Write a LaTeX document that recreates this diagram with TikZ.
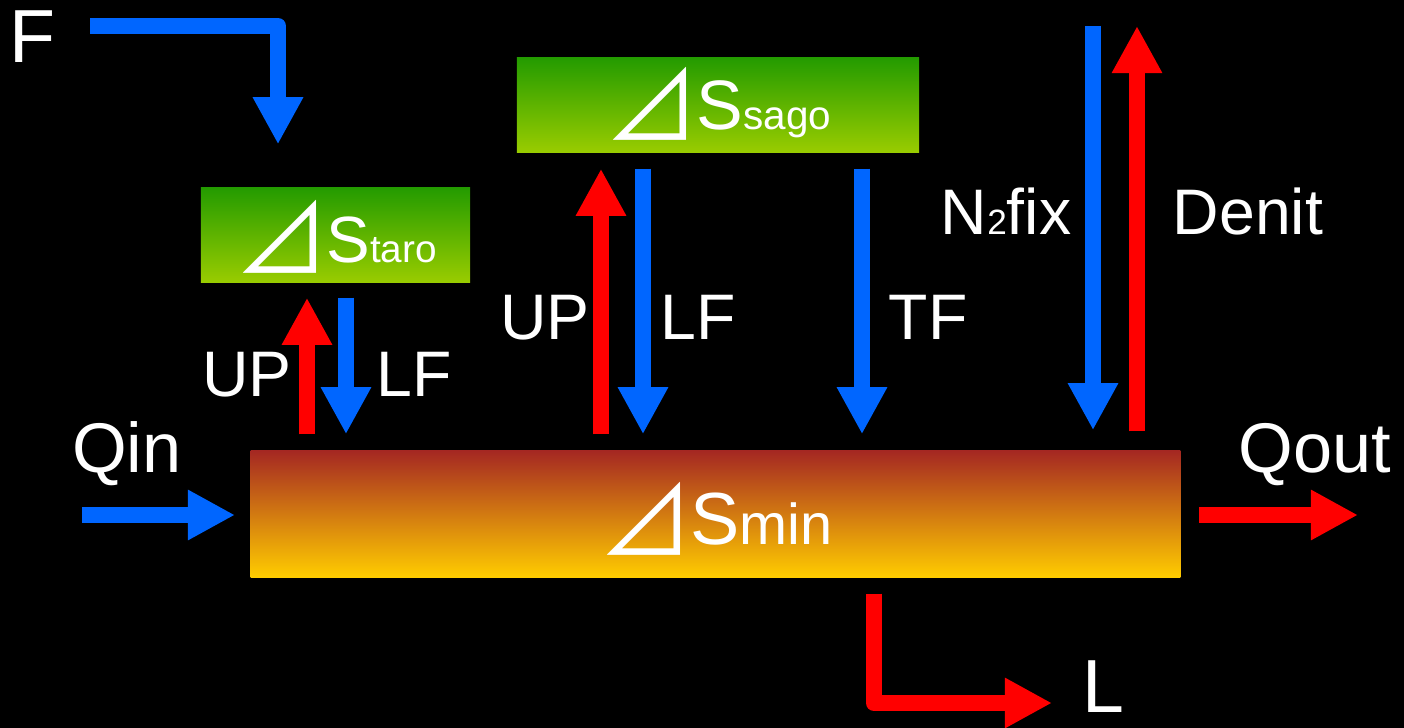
\documentclass[tikz,border=0pt]{standalone}
\usepackage{fontspec}
\setmainfont{Liberation Sans}
\newfontfamily\cjk{Noto Sans CJK JP}
\usetikzlibrary{arrows.meta}
\definecolor{arrblue}{RGB}{0,102,255}
\definecolor{arrred}{RGB}{255,0,0}
\definecolor{gtop}{RGB}{36,155,0}
\definecolor{gbot}{RGB}{153,204,0}
\definecolor{mtop}{RGB}{165,40,34}
\definecolor{mmid}{RGB}{214,140,24}
\definecolor{mbot}{RGB}{255,204,0}
\newcommand\mytri[1]{\raisebox{-3.4pt}{\cjk\fontsize{#1}{#1}\selectfont ⊿}\kern-0.8pt}
\newcommand\fs[1]{\fontsize{#1}{#1}\selectfont}
\begin{document}
\begin{tikzpicture}[x=0.01cm,y=-0.01cm,
  lbl/.style={text=white, font=\fs{18.3pt}, inner sep=0pt, anchor=base},
  biglbl/.style={lbl, font=\fs{21.4pt}},
  qlbl/.style={lbl, font=\fs{20pt}},
  gbox/.style={rectangle, inner sep=0pt, text=white, top color=gtop, bottom color=gbot, draw=none},
  mbox/.style={rectangle, inner sep=0pt, text=white, top color=mtop, middle color=mmid, bottom color=mbot, draw=none},
  arrbase/.style={line width=4.55pt, line join=round, -{Triangle[length=13.4pt,width=13.4pt]}},
  barr/.style={arrbase, draw=arrblue},
  rarr/.style={arrbase, draw=arrred},
]
\useasboundingbox (0,0) rectangle (1404,728);
\fill[black] (0,0) rectangle (1404,728);

% boxes
\node[gbox, minimum width=2.69cm, minimum height=0.94cm, text height=15.9pt, text depth=0pt] (staro) at (335.5,235)
  {\mytri{27pt}{\fs{18.6pt}S}{\fs{11pt}taro}};
\node[gbox, minimum width=4.02cm, minimum height=0.94cm, text height=14.2pt, text depth=0pt] (sago) at (718,105)
  {\mytri{27pt}{\fs{19.9pt}S}{\fs{11.5pt}sago}};
\node[mbox, minimum width=9.29cm, minimum height=1.26cm, text height=17.6pt, text depth=0pt] (min) at (715.5,514)
  {\mytri{27pt}{\fs{21pt}S}{\fs{16.4pt}min}};

% column coordinates
\coordinate (cup1) at (307,0);
\coordinate (clf1) at (346,0);
\coordinate (cup2) at (601,0);
\coordinate (clf2) at (643,0);
\coordinate (ctf) at (862,0);
\coordinate (cl) at (874,0);
\coordinate (fstart) at (90,26);
\coordinate (fcorner) at (278,26);
\coordinate (ntop) at (1093,26);
\coordinate (dtop) at (1137,26);
\coordinate (qinstart) at (82,515);
\coordinate (qoutend) at (1358,515);
\coordinate (lcorner) at (874,703);
\coordinate (lend) at (1052,703);

% arrows
\draw[barr, shorten >=12.2pt] (fstart) -- (fcorner) -- (staro.north -| fcorner);
\draw[rarr, shorten <=4.55pt, shorten >=4.27pt] (min.north -| cup1) -- (staro.south -| cup1);
\draw[barr, shorten <=4.27pt, shorten >=4.55pt] (staro.south -| clf1) -- (min.north -| clf1);
\draw[rarr, shorten <=4.55pt, shorten >=4.55pt] (min.north -| cup2) -- (sago.south -| cup2);
\draw[barr, shorten <=4.55pt, shorten >=4.55pt] (sago.south -| clf2) -- (min.north -| clf2);
\draw[barr, shorten <=4.55pt, shorten >=4.55pt] (sago.south -| ctf) -- (min.north -| ctf);
\draw[barr, shorten >=5.7pt] (ntop) -- (min.north -| ntop);
\draw[rarr, shorten <=5.4pt] (min.north -| dtop) -- (dtop);
\draw[barr, shorten >=4.27pt] (qinstart) -- (min.west |- qinstart);
\draw[rarr, shorten <=5.1pt] (min.east |- qoutend) -- (qoutend);
\draw[rarr, shorten <=4.55pt] (min.south -| cl) -- (lcorner) -- (lend);

% labels
\node[biglbl] (lF) at (32,63) {F};
\node[biglbl] (lL) at (1103,712) {L};
\node[qlbl] (lqin) at (127,472) {Qin};
\node[qlbl] (lqout) at (1315,472) {Qout};
\node[lbl] (lup1) at (247,397) {UP};
\node[lbl] (llf1) at (414,397) {LF};
\node[lbl] (lup2) at (545,340) {UP};
\node[lbl] (llf2) at (698,340) {LF};
\node[lbl] (ltf) at (928,340) {TF};
\node[lbl] (ln2) at (1006,235) {N{\fs{10pt}2}fix};
\node[lbl] (lden) at (1248,235) {Denit};
\end{tikzpicture}
\end{document}
